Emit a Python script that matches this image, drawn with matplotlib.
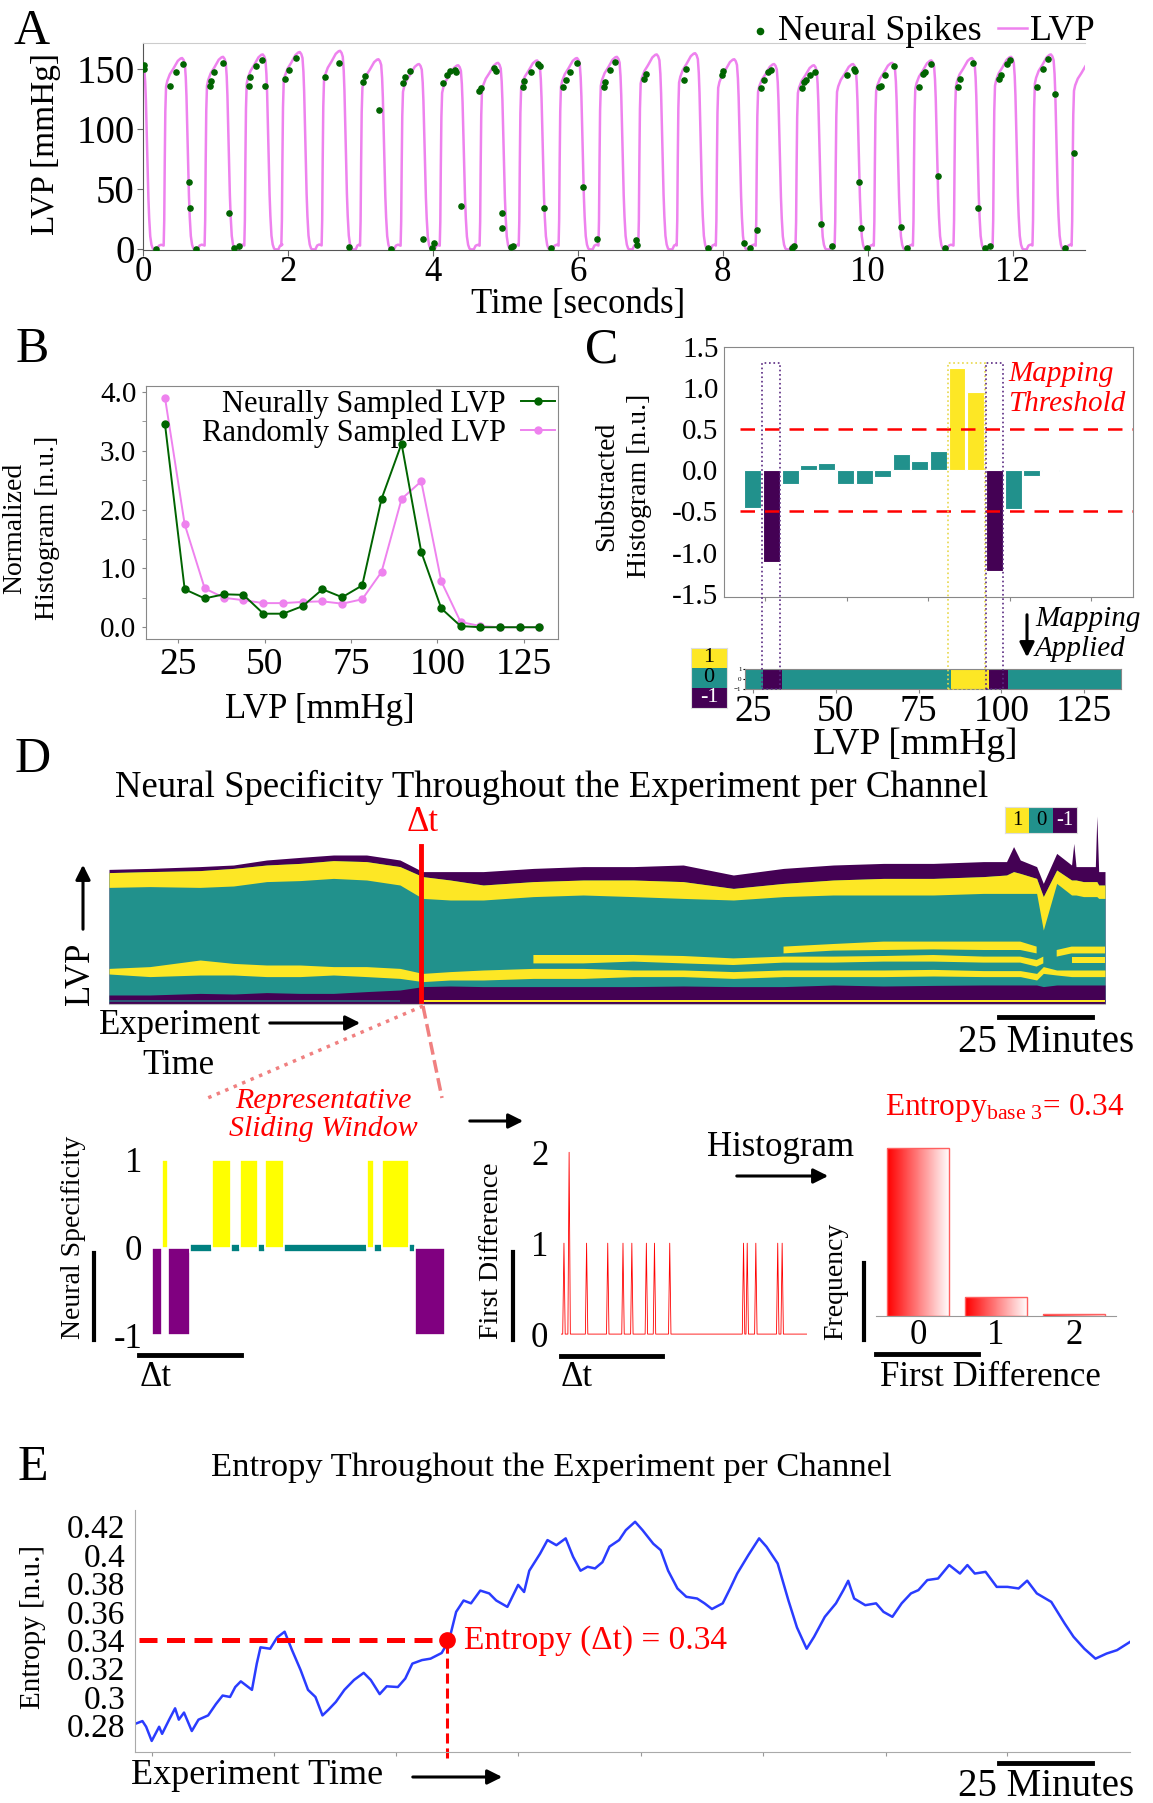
import numpy as np
import matplotlib
matplotlib.use("Agg")
import matplotlib.pyplot as plt
from matplotlib.patches import Rectangle, FancyArrowPatch
from matplotlib.lines import Line2D
from matplotlib.colors import ListedColormap, LinearSegmentedColormap

plt.rcParams["font.family"] = ["Liberation Serif", "DejaVu Serif"]
plt.rcParams["mathtext.fontset"] = "stix"

nan = float("nan")

# ---------------- data ----------------
# A: LVP beats (peak time [s], peak value [mmHg]) and the beat shape
beat_peak_t = [-0.02, 0.54, 1.105, 1.653, 2.164, 2.72, 3.25, 3.81, 4.35, 4.90, 5.44, 5.99, 6.54,
               7.09, 7.62, 8.16, 8.71, 9.26, 9.80, 10.34, 10.88, 11.44, 11.98, 12.53, 13.07]
beat_peak_v = [155, 159, 160, 162, 164, 165, 158, 154, 153, 155, 157, 159, 160,
               162, 163, 158, 154, 153, 154, 155, 157, 159, 160, 162, 155]
beat_shape_dt = [-0.255, -0.247, -0.240, -0.232, -0.222, -0.205, -0.17, -0.12, -0.06, -0.02, 0.0,
                 0.02, 0.037, 0.05, 0.06, 0.072, 0.082, 0.094, 0.105, 0.12, 0.137, 0.155, 0.17,
                 0.215, 0.24, 0.27]
beat_shape_frac = [0.02, 0.15, 0.45, 0.72, 0.85, 0.88, 0.915, 0.945, 0.985, 0.998, 1.0,
                   0.99, 0.97, 0.90, 0.80, 0.62, 0.45, 0.28, 0.17, 0.07, 0.025, 0.005, 0.0,
                   0.0, 0.02, 0.025]

spike_t = [0.02, 0.02, 0.18, 0.37, 0.45, 0.55, 0.63, 0.65, 0.73, 0.93,
           0.94, 0.98, 1.11, 1.19, 1.26, 1.33, 1.46, 1.48, 1.56, 1.64,
           1.69, 1.96, 2.01, 2.11, 2.51, 2.71, 2.84, 3.04, 3.06, 3.26,
           3.42, 3.59, 3.62, 3.69, 3.87, 3.99, 4.02, 4.14, 4.19, 4.24,
           4.30, 4.32, 4.39, 4.64, 4.66, 4.85, 4.87, 4.95, 4.96, 5.08,
           5.10, 5.24, 5.26, 5.36, 5.45, 5.48, 5.53, 5.63, 5.80, 5.84,
           5.89, 5.99, 6.07, 6.27, 6.36, 6.37, 6.44, 6.52, 6.81, 6.82,
           6.92, 6.94, 7.46, 7.50, 7.80, 7.99, 8.01, 8.30, 8.37, 8.47,
           8.53, 8.57, 8.63, 8.67, 8.96, 8.98, 9.10, 9.12, 9.15, 9.21,
           9.28, 9.36, 9.51, 9.71, 9.81, 9.83, 9.88, 9.91, 9.99, 10.16,
           10.18, 10.24, 10.36, 10.46, 10.54, 10.71, 10.76, 10.79, 10.88, 10.97,
           11.07, 11.25, 11.27, 11.45, 11.53, 11.62, 11.69, 11.82, 11.84, 11.92,
           11.96, 12.34, 12.42, 12.49, 12.58, 12.73, 12.85]
spike_v = [153, 150, 0, 136, 147, 154, 56, 34, 0, 136,
           140, 147, 155, 30, 1, 3, 136, 143, 152, 157,
           136, 142, 149, 159, 143, 155, 2, 139, 144, 116,
           0, 138, 143, 148, 9, 1, 5, 138, 145, 148,
           149, 147, 36, 132, 134, 151, 148, 30, 18, 2,
           3, 135, 140, 147, 154, 152, 34, 1, 135, 141,
           147, 155, 52, 9, 135, 139, 149, 156, 8, 4,
           142, 146, 141, 150, 1, 145, 148, 5, 1, 16,
           134, 141, 147, 149, 1, 3, 134, 139, 141, 145,
           147, 21, 3, 145, 150, 148, 56, 18, 1, 135,
           136, 145, 152, 19, 1, 135, 146, 147, 154, 61,
           1, 135, 142, 155, 34, 1, 3, 142, 145, 154,
           157, 135, 150, 158, 129, 1, 80]

# B: normalized histograms
lvp_bins = [21.1, 26.8, 32.6, 38.2, 43.8, 49.6, 55.3, 61.0, 66.7, 72.4,
            78.2, 83.8, 89.6, 95.3, 101.1, 106.7, 112.4, 118.1, 123.8, 129.5]
hist_neural = [3.45, 0.645, 0.49, 0.56, 0.55, 0.23, 0.23, 0.36, 0.645, 0.51,
               0.71, 2.18, 3.12, 1.28, 0.32, 0.02, 0.0, 0.0, 0.0, 0.0]
hist_random = [3.90, 1.75, 0.66, 0.50, 0.46, 0.41, 0.41, 0.43, 0.44, 0.40,
               0.475, 0.94, 2.18, 2.48, 0.78, 0.09, 0.02, 0.0, 0.0, 0.0]

# C: subtracted histogram and the resulting mapping
hist_diff = [-0.46, -1.11, -0.17, 0.065, 0.09, -0.17, -0.17, -0.08, 0.2, 0.11,
             0.24, 1.25, 0.95, -1.22, -0.47, -0.07, -0.005]
map_threshold = 0.5
map_edges = [22.6, 28.1, 33.9, 84.8, 96.4, 102.1, 136.1]
map_vals = [0, -1, 0, 1, -1, 0]

# D: neural specificity map (time [min], band boundaries in LVP bins, 0 = bottom)
hm_t = [0, 11.0, 24.5, 33.5, 42.4, 51.4, 60.4, 69.3, 78.3, 84.4, 91.8, 100.7, 114.2, 127.6,
        141.1, 154.5, 168.0, 181.5, 194.9, 208.4, 221.8, 235.3, 241.5, 243.4, 245.2, 249.6,
        251.4, 255.0, 259.0, 259.6, 260.2, 262.2, 265.4, 265.8, 266.3, 268.0]
hm_top = [67.3, 67.8, 68.7, 69.5, 72.0, 73.3, 74.5, 74.5, 72.0, 66.2, 66.2, 66.2, 67.8, 68.7,
          68.7, 69.5, 64.5, 67.8, 69.5, 70.3, 70.3, 71.2, 71.2, 78.7, 72.0, 68.7,
          60.3, 75.3, 69.5, 80.3, 68.7, 68.7, 68.7, 94.0, 66.2, 66.2]
hm_y1_top = [65.7, 66.2, 66.7, 67.8, 69.5, 70.3, 71.7, 71.2, 68.7, 63.7, 62.0, 59.5, 61.2, 62.0,
             62.0, 61.2, 57.8, 60.3, 62.0, 62.8, 62.8, 63.7, 64.5, 66.2, 65.3, 62.8,
             53.7, 67.0, 62.0, 62.0, 62.0, 61.2, 61.2, 61.2, 59.5, 59.5]
hm_y1_bot = [58.3, 58.7, 58.3, 59.0, 61.2, 61.7, 62.8, 62.0, 59.5, 52.8, 52.0, 52.0, 53.7, 54.5,
             53.7, 52.8, 52.0, 53.7, 54.5, 54.5, 54.5, 55.3, 55.3, 55.3, 55.3, 55.3,
             37.0, 60.3, 54.5, 54.5, 54.5, 53.7, 53.7, 53.7, 52.8, 52.8]
hm_la_top = [nan] * 17 + [28.7, 30.0, 31.2, 31.2, 31.2, 31.2, 31.2, 31.2, 28.7, nan, 27.0,
                          28.7, 28.7, 28.7, 28.7, 28.7, 28.7, 28.7, 28.7]
hm_la_bot = [nan] * 17 + [25.3, 26.7, 27.0, 27.3, 27.0, 27.0, 27.0, 27.0, 25.3, nan, 23.7,
                          25.3, 25.3, 25.3, 25.3, 25.3, 25.3, 25.3, 25.3]
hm_lb_top = [nan] * 12 + [24.5, 24.5, 24.5, 24.0, 22.8, 23.7, 23.7, 24.0, 24.5, 23.7, 23.7, 23.7,
                          23.7, 22.0, 23.7, nan, 23.7, 23.7, 23.7, 23.7, 23.7, 23.7, 23.7, 23.7]
hm_lb_bot = [nan] * 12 + [20.3, 20.3, 21.2, 20.3, 19.5, 20.7, 20.7, 21.2, 21.2, 20.7, 20.7, 20.7,
                          20.7, 18.7, 20.3, nan, 20.3, 20.3, 20.3, 20.3, 20.3, 20.3, 20.3, 20.3]
hm_lc_top = [17.8, 18.7, 22.0, 20.3, 19.5, 19.5, 18.7, 18.7, 17.8, 15.3, 16.2, 17.0, 17.8, 17.8,
             17.0, 17.0, 16.2, 17.0, 17.0, 17.0, 17.3, 16.7, 16.7, 16.7, 16.7, 15.3,
             18.7, 17.0, 17.0, 17.0, 17.0, 17.0, 17.0, 17.0, 17.0, 17.0]
hm_lc_bot = [15.0, 13.7, 14.5, 14.5, 13.7, 13.7, 14.5, 13.7, 12.8, 11.2, 12.0, 12.0, 12.8, 12.8,
             13.7, 13.7, 12.8, 13.7, 13.7, 13.7, 14.0, 13.7, 13.7, 13.7, 13.7, 12.0,
             15.3, 14.5, 13.7, 13.7, 13.7, 13.7, 13.7, 13.7, 13.7, 13.7]
hm_floor = [4.5, 4.5, 5.3, 5.0, 5.7, 5.3, 5.3, 6.2, 7.0, 8.7, 9.0, 8.7, 8.7, 8.7,
            8.7, 9.0, 8.7, 8.7, 9.5, 9.0, 9.3, 9.5, 9.5, 9.5, 9.5, 9.5,
            8.7, 9.5, 9.5, 9.5, 9.5, 9.5, 9.5, 9.5, 9.5, 9.5]
delta_t = 84.0  # representative window position [min]

# D (bottom): representative window, first difference, histogram
ns_edges = [0, 3.5, 5.5, 12.9, 20.4, 26.9, 29.9, 36.3, 38.6, 45.0, 73.4, 75.9, 78.4, 87.6, 89.6, 100]
ns_vals = [-1, 1, -1, 0, 1, 0, 1, 0, 1, 0, 1, 0, 1, 0, -1]
fd_pos = [1.2, 3.3, 10.4, 19.0, 25.2, 28.8, 34.7, 38.0, 44.2, 74.2, 75.7, 79.2, 88.1, 89.9]
fd_val = [1, 2, 1, 1, 1, 1, 1, 1, 1, 1, 1, 1, 1, 1]
fd_levels = [0, 1, 2]
fd_freq = [0.887, 0.100, 0.013]
window_entropy = 0.34

# E: entropy over the experiment
ent_t = [0, 2.0, 3.0, 4.5, 6.5, 7.3, 9.2, 10.8, 11.8, 13.2,
         15.3, 17.1, 19.7, 21.8, 23.6, 25.6, 27.0, 28.5, 29.5, 31.5,
         32.8, 33.8, 36.4, 38.3, 40.3, 42.3, 44.6, 46.6, 48.6, 50.5,
         52.1, 54.1, 56.4, 59.0, 61.6, 63.5, 65.9, 67.8, 70.8, 72.8,
         74.7, 77.3, 79.6, 82.6, 84.6, 86.5, 88.5, 90.5, 93.0, 95.4,
         97.3, 100.3, 103.2, 104.8, 106.2, 109.1, 111.1, 113.5, 116.0, 118.0,
         120.0, 121.9, 123.9, 125.9, 127.8, 130.4, 132.2, 134.7, 136.7, 139.6,
         141.6, 143.6, 146.1, 148.5, 151.4, 153.4, 155.4, 158.3, 160.3, 162.2,
         165.2, 168.1, 170.1, 173.1, 176.0, 178.3, 180.9, 182.9, 185.8, 188.8,
         190.8, 192.1, 193.7, 196.7, 199.6, 201.6, 204.0, 206.5, 209.0, 211.0,
         213.4, 216.3, 219.3, 222.2, 224.2, 226.2, 229.1, 232.1, 235.0, 238.0,
         240.3, 242.9, 246.8, 250.4, 252.8, 255.7, 258.7, 261.7, 264.5, 268.0]
ent_v = [0.281, 0.283, 0.279, 0.269, 0.279, 0.274, 0.284, 0.292, 0.284, 0.289,
         0.276, 0.284, 0.287, 0.295, 0.301, 0.300, 0.307, 0.311, 0.309, 0.305,
         0.3235, 0.335, 0.334, 0.342, 0.346, 0.333, 0.319, 0.305, 0.300, 0.287,
         0.291, 0.2965, 0.305, 0.312, 0.317, 0.312, 0.302, 0.3075, 0.307, 0.313,
         0.3235, 0.326, 0.327, 0.331, 0.340, 0.360, 0.368, 0.366, 0.375, 0.373,
         0.368, 0.3635, 0.379, 0.374, 0.389, 0.401, 0.4106, 0.407, 0.4118, 0.3988,
         0.389, 0.3918, 0.3906, 0.395, 0.406, 0.4106, 0.4176, 0.4235, 0.4176, 0.408,
         0.4035, 0.389, 0.3765, 0.3706, 0.3694, 0.366, 0.362, 0.366, 0.3765, 0.387,
         0.400, 0.4118, 0.4059, 0.3941, 0.368, 0.349, 0.334, 0.3424, 0.3565, 0.366,
         0.3753, 0.3819, 0.3694, 0.3647, 0.366, 0.360, 0.3565, 0.366, 0.373, 0.3753,
         0.3824, 0.3835, 0.393, 0.387, 0.393, 0.387, 0.3882, 0.3776, 0.3776, 0.3765,
         0.382, 0.373, 0.367, 0.3518, 0.3424, 0.334, 0.327, 0.3306, 0.333, 0.3388]
ent_xticks = [4.5, 37.4, 70.4, 103.2, 136.3, 169.1, 202.2, 235.0]
ent_yticks = [0.28, 0.30, 0.32, 0.34, 0.36, 0.38, 0.40, 0.42]

# ---------------- figure helpers (pixel layout, origin top-left) ----------------
W, H = 1153, 1803
fig = plt.figure(figsize=(W / 100, H / 100), dpi=100)

YEL, TEAL, PURP = "#fde725", "#21918c", "#440154"
spec_cmap = ListedColormap([PURP, TEAL, YEL])


def axes_px(x0, y0, x1, y1):
    return fig.add_axes([x0 / W, 1 - y1 / H, (x1 - x0) / W, (y1 - y0) / H])


def ftext(x, y, s, **kw):
    kw.setdefault("ha", "center")
    kw.setdefault("va", "center")
    return fig.text(x / W, 1 - y / H, s, **kw)


def fline(x0, y0, x1, y1, **kw):
    fig.add_artist(Line2D([x0 / W, x1 / W], [1 - y0 / H, 1 - y1 / H],
                          transform=fig.transFigure, **kw))


def farrow(x0, y0, x1, y1):
    fig.add_artist(FancyArrowPatch((x0 / W, 1 - y0 / H), (x1 / W, 1 - y1 / H),
                                   transform=fig.transFigure, arrowstyle="-|>",
                                   mutation_scale=22, lw=2.2, color="black"))


def gray_spines(ax, which=("left", "bottom", "top", "right"), color="#888888"):
    for k, sp in ax.spines.items():
        sp.set_visible(k in which)
        sp.set_color(color)


LETTER = 36

# ---------------- A ----------------
axA = axes_px(143, 43, 1085, 250)
lvp_t, lvp_v = [], []
for tp, vp in zip(beat_peak_t, beat_peak_v):
    lvp_t += [tp + d for d in beat_shape_dt]
    lvp_v += [vp * f for f in beat_shape_frac]
ln, = axA.plot(lvp_t, lvp_v, color="violet", lw=1.8, zorder=2)
sc = axA.scatter(spike_t, spike_v, s=14, color="darkgreen", zorder=3)
axA.set_xlim(0, 13)
axA.set_ylim(-0.5, 171.5)
axA.set_xticks([0, 2, 4, 6, 8, 10, 12])
axA.set_yticks([0, 50, 100, 150])
axA.tick_params(axis="y", labelsize=28, length=4, color="#666666", pad=2)
axA.tick_params(axis="x", labelsize=25, length=4, color="#666666", pad=0.5)
gray_spines(axA, ("left", "bottom", "top"), "#555555")
axA.spines["top"].set_color("#cccccc")
axA.legend([sc, ln], ["Neural Spikes", "LVP"], loc="lower right", bbox_to_anchor=(1.026, 0.905),
           ncol=2, frameon=False, fontsize=26, handlelength=0.8, handletextpad=0.1,
           columnspacing=0.45, borderaxespad=0, scatterpoints=1, markerscale=1.2)
ftext(32, 32, "A", fontsize=LETTER)
ftext(46, 144, "LVP [mmHg]", rotation=90, fontsize=24)
ftext(578, 305, "Time [seconds]", fontsize=25)

# ---------------- B ----------------
axB = axes_px(146, 386, 558, 639)
axB.plot(lvp_bins, hist_random, "-o", color="violet", ms=5, lw=1.4, label="Randomly Sampled LVP")
axB.plot(lvp_bins, hist_neural, "-o", color="darkgreen", ms=5, lw=1.4, label="Neurally Sampled LVP")
axB.set_xlim(15.6, 134.9)
axB.set_ylim(-0.2, 4.1)
axB.set_xticks([25, 50, 75, 100, 125])
axB.set_yticks([0, 1, 2, 3, 4])
axB.set_yticklabels([f"{v:.1f}" for v in [0, 1, 2, 3, 4]])
axB.set_yticks([0.5, 1.5, 2.5, 3.5], minor=True)
axB.tick_params(axis="x", labelsize=27, length=3, color="#888888", pad=3)
axB.tick_params(axis="y", labelsize=21, length=3, color="#888888", pad=4)
axB.tick_params(axis="y", which="minor", length=3, color="#888888")
gray_spines(axB)
hB, lB = axB.get_legend_handles_labels()
axB.legend(hB[::-1], lB[::-1], loc="upper right", frameon=False, fontsize=22, markerfirst=False,
           handlelength=1.1, handletextpad=0.5, labelspacing=0.0, borderaxespad=0.05,
           borderpad=0.05)
ftext(32, 350, "B", fontsize=LETTER)
ftext(31, 528, "Normalized\nHistogram [n.u.]", rotation=90, fontsize=20, linespacing=1.45)
ftext(320, 710, "LVP [mmHg]", fontsize=25)

# ---------------- C ----------------
axC = axes_px(724, 347, 1133, 597)
c_bins = lvp_bins[:len(hist_diff)]
c_cols = [YEL if v > map_threshold else PURP if v < -map_threshold else TEAL for v in hist_diff]
axC.bar(c_bins, hist_diff, width=5.2, color=c_cols, edgecolor="white", lw=0.8)
for th in (map_threshold, -map_threshold):
    axC.axhline(th, color="red", lw=1.8, ls=(0, (5.8, 4)), xmin=0.04)
axC.set_xlim(12.3, 137.8)
axC.set_ylim(-1.54, 1.48)
axC.set_yticks([-1.5, -1.0, -0.5, 0.0, 0.5, 1.0, 1.5])
axC.set_yticklabels([f"{v:.1f}" for v in [-1.5, -1.0, -0.5, 0.0, 0.5, 1.0, 1.5]])
axC.set_xticks([25, 50, 75, 100, 125])
axC.set_xticklabels([])
axC.tick_params(axis="y", labelsize=21, length=0, pad=4)
axC.tick_params(axis="x", length=3, color="#888888")
gray_spines(axC)

axS = axes_px(745, 669, 1121, 689)
axS.pcolormesh(map_edges, [-1, 1], [map_vals], cmap=spec_cmap, vmin=-1, vmax=1)
axS.set_xlim(map_edges[0], map_edges[-1])
axS.set_ylim(-1, 1)
axS.set_xticks([25, 50, 75, 100, 125])
axS.set_yticks([-1, 0, 1])
axS.tick_params(axis="x", labelsize=27, length=3, color="#888888", pad=1)
axS.tick_params(axis="y", labelsize=5, length=1.5, pad=1)
gray_spines(axS)

axCL = axes_px(691, 648, 727, 708)
axCL.imshow([[1], [0], [-1]], cmap=spec_cmap, vmin=-1, vmax=1, aspect="auto")
for i, s in enumerate(["1", "0", "-1"]):
    axCL.text(0, i, s, ha="center", va="center", fontsize=16, color="white" if s == "-1" else "black")
axCL.set_xticks([])
axCL.set_yticks([])
gray_spines(axCL, color="#dddddd")

# dotted boxes joining the thresholded bars to the mapping strip
inv = fig.transFigure.inverted()
y_bot = inv.transform(axS.transAxes.transform((0, 0)))[1]
y_top = inv.transform(axC.transData.transform((0, 1.3)))[1]
groups = []
for i, v in enumerate(hist_diff):
    sgn = 1 if v > map_threshold else -1 if v < -map_threshold else 0
    if sgn == 0:
        continue
    if groups and groups[-1][1] == i - 1 and groups[-1][2] == sgn:
        groups[-1][1] = i
    else:
        groups.append([i, i, sgn])
for i0, i1, sgn in groups:
    x0 = inv.transform(axC.transData.transform((c_bins[i0] - 2.75, 0)))[0]
    x1 = inv.transform(axC.transData.transform((c_bins[i1] + 2.75, 0)))[0]
    fig.add_artist(Rectangle((x0, y_bot), x1 - x0, y_top - y_bot, transform=fig.transFigure,
                             fill=False, ls=":", lw=1.2,
                             ec="#e8d84a" if sgn > 0 else "#5a2a82"))

ftext(602, 350, "C", fontsize=LETTER)
ftext(623, 486, "Substracted\nHistogram [n.u.]", rotation=90, fontsize=20, linespacing=1.45)
ftext(1008, 389, "Mapping\nThreshold", ha="left", fontsize=21, style="italic", color="red",
      linespacing=1.2)
ftext(1035, 634, "Mapping\nApplied", ha="left", fontsize=21, style="italic", linespacing=1.15)
farrow(1027, 612, 1027, 660)
ftext(915, 745, "LVP [mmHg]", fontsize=27)

# ---------------- D ----------------
ftext(33, 760, "D", fontsize=LETTER)
ftext(552, 787, "Neural Specificity Throughout the Experiment per Channel", fontsize=26.5)

axH = axes_px(109, 816, 1105, 1004)
t = np.array(hm_t)
axH.fill_between(t, 0, hm_top, color=PURP, lw=0)
axH.fill_between(t, 0, hm_y1_top, color=TEAL, lw=0)
axH.fill_between(t, hm_y1_bot, hm_y1_top, color=YEL, lw=0)
for top, bot in [(hm_la_top, hm_la_bot), (hm_lb_top, hm_lb_bot), (hm_lc_top, hm_lc_bot)]:
    axH.fill_between(t, bot, top, color=YEL, lw=0)
axH.fill_between(t, 0, hm_floor, color=PURP, lw=0)
axH.fill_between(t, 1.0, 2.0, where=t >= delta_t, color=YEL, lw=0)
axH.fill_between(t, 1.0, 2.0, where=t <= delta_t, color=TEAL, lw=0, alpha=0.6)
axH.axvline(delta_t, ymin=0, ymax=0.84, color="red", lw=3.5)
axH.set_xlim(0, 268)
axH.set_ylim(0, 94)
axH.set_xticks([])
axH.set_yticks([])
gray_spines(axH, ("bottom",), "#bbbbbb")
axH.patch.set_alpha(0)

axHL = axes_px(1005, 807, 1077, 833)
axHL.imshow([[1, 0, -1]], cmap=spec_cmap, vmin=-1, vmax=1, aspect="auto")
for i, s in enumerate(["1", "0", "-1"]):
    axHL.text(i, 0, s, ha="center", va="center", fontsize=15, color="white" if s == "-1" else "black")
axHL.set_xticks([])
axHL.set_yticks([])
gray_spines(axHL, color="#dddddd")

ftext(423, 822, "Δt", color="red", fontsize=25)
ftext(81, 974, "LVP", rotation=90, fontsize=25)
farrow(83, 932, 83, 862)
ftext(180, 1025, "Experiment", fontsize=25)
farrow(267, 1023, 363, 1023)
ftext(178, 1065, "Time", fontsize=25)
fline(999, 1017, 1092, 1017, lw=3.5, color="black")
ftext(1046, 1043, "25 Minutes", fontsize=28)
fline(423, 1006, 203, 1100, color="#f08080", lw=2.5, ls=":")
fline(423, 1006, 442, 1098, color="#f08080", lw=2.5, ls="--")

# representative window
axNS = axes_px(152, 1150, 445, 1345)
for i, v in enumerate(ns_vals):
    x0, w = ns_edges[i], ns_edges[i + 1] - ns_edges[i]
    if v == 1:
        axNS.bar(x0, 1, width=w, align="edge", color="#ffff00", edgecolor="white", lw=1.2)
    elif v == -1:
        axNS.bar(x0, -1, width=w, align="edge", color="#800080", edgecolor="white", lw=1.2)
    else:
        axNS.bar(x0, 0.09, bottom=-0.05, width=w, align="edge", color="#008080",
                 edgecolor="white", lw=1.2)
axNS.set_xlim(0, 100)
axNS.set_ylim(-1.11, 1.11)
axNS.set_xticks([])
axNS.set_yticks([-1, 0, 1])
axNS.set_yticklabels(["-1", "0", "1"])
axNS.tick_params(axis="y", labelsize=25, length=0, pad=7)
gray_spines(axNS, ())

fd_x, fd_y = [0], [0]
for p, h in zip(fd_pos, fd_val):
    fd_x += [p - 0.5, p, p + 0.5]
    fd_y += [0, h, 0]
fd_x.append(100)
fd_y.append(0)
axFD = axes_px(561, 1145, 807, 1345)
axFD.plot(fd_x, fd_y, color="red", lw=0.6)
axFD.set_xlim(0, 100)
axFD.set_ylim(-0.12, 2.08)
axFD.set_xticks([])
axFD.set_yticks([0, 1, 2])
axFD.tick_params(axis="y", labelsize=25, length=0, pad=9)
gray_spines(axFD, ())

axHi = axes_px(876, 1140, 1116, 1316)
rw_cmap = LinearSegmentedColormap.from_list("rw", ["#ff0000", "#ffffff"])
bars = axHi.bar(fd_levels, fd_freq, width=0.8, color="none", edgecolor="#ff6060", lw=1, zorder=3)
for b in bars:
    im = axHi.imshow(np.linspace(0, 1, 64)[None, :], cmap=rw_cmap, aspect="auto", zorder=2,
                     extent=[b.get_x(), b.get_x() + b.get_width(), 0, b.get_height()])
    im.set_clip_path(b)
axHi.set_xlim(-0.54, 2.54)
axHi.set_ylim(0, 0.93)
axHi.set_xticks(fd_levels)
axHi.set_yticks([])
axHi.tick_params(axis="x", labelsize=25, length=0, pad=2)
gray_spines(axHi, ("bottom",), "#999999")

fline(93.5, 1253, 93.5, 1340, lw=3, color="black")
fline(139, 1355, 241, 1355, lw=3.5, color="black")
ftext(156, 1377, "Δt", fontsize=25)
fline(513, 1252, 513, 1340, lw=3, color="black")
fline(561, 1356, 662, 1356, lw=3.5, color="black")
ftext(577, 1377, "Δt", fontsize=25)
fline(864, 1263, 864, 1340, lw=3, color="black")
fline(876, 1354, 978, 1354, lw=3.5, color="black")
ftext(990, 1377, "First Difference", fontsize=25)
ftext(73, 1237, "Neural Specificity", rotation=90, fontsize=20)
ftext(491, 1251, "First Difference", rotation=90, fontsize=20)
ftext(836, 1281, "Frequency", rotation=90, fontsize=20)
ftext(323, 1115, "Representative\nSliding Window", fontsize=21.5, style="italic", color="red",
      linespacing=1.05)
farrow(467, 1121, 526, 1121)
ftext(780, 1147, "Histogram", fontsize=25)
farrow(734, 1176, 831, 1176)
ftext(1005, 1108, r"Entropy$_{\mathregular{base\ 3}}$= " + f"{window_entropy:.2f}", color="red",
      fontsize=22.5)

# ---------------- E ----------------
ftext(33, 1468, "E", fontsize=LETTER)
ftext(551, 1468, "Entropy Throughout the Experiment per Channel", fontsize=24.8)
axE = axes_px(135, 1510, 1130, 1752)
axE.plot(ent_t, ent_v, color="#2a3cff", lw=1.8)
ylo, yhi = 0.2612, 0.4318
axE.set_xlim(0, 268)
axE.set_ylim(ylo, yhi)
axE.plot([1, delta_t], [window_entropy, window_entropy], color="red", lw=3.6, ls=(0, (3.6, 1.9)))
axE.axvline(delta_t, ymin=-0.025, ymax=(window_entropy - ylo) / (yhi - ylo), color="red",
            lw=2.2, ls=(0, (3.3, 1.6)), clip_on=False)
axE.plot(delta_t, window_entropy, "o", color="red", ms=11, zorder=4)
axE.text(delta_t + 4.5, window_entropy - 0.0005, f"Entropy (Δt) = {window_entropy:.2f}",
         color="red", fontsize=24, va="center", ha="left")
axE.set_xticks(ent_xticks)
axE.set_xticklabels([])
axE.set_yticks(ent_yticks)
axE.set_yticklabels([f"{v:g}" for v in ent_yticks])
axE.tick_params(axis="y", labelsize=24, length=0, pad=7)
axE.tick_params(axis="x", length=3, color="#999999")
gray_spines(axE, ("left", "bottom"), "#aaaaaa")
ftext(33, 1627, "Entropy [n.u.]", rotation=90, fontsize=21)
ftext(257, 1775, "Experiment Time", fontsize=26)
farrow(410, 1777, 505, 1777)
fline(999, 1763, 1092, 1763, lw=3.5, color="black")
ftext(1046, 1787, "25 Minutes", fontsize=28)

fig.savefig("out.png", dpi=100)
